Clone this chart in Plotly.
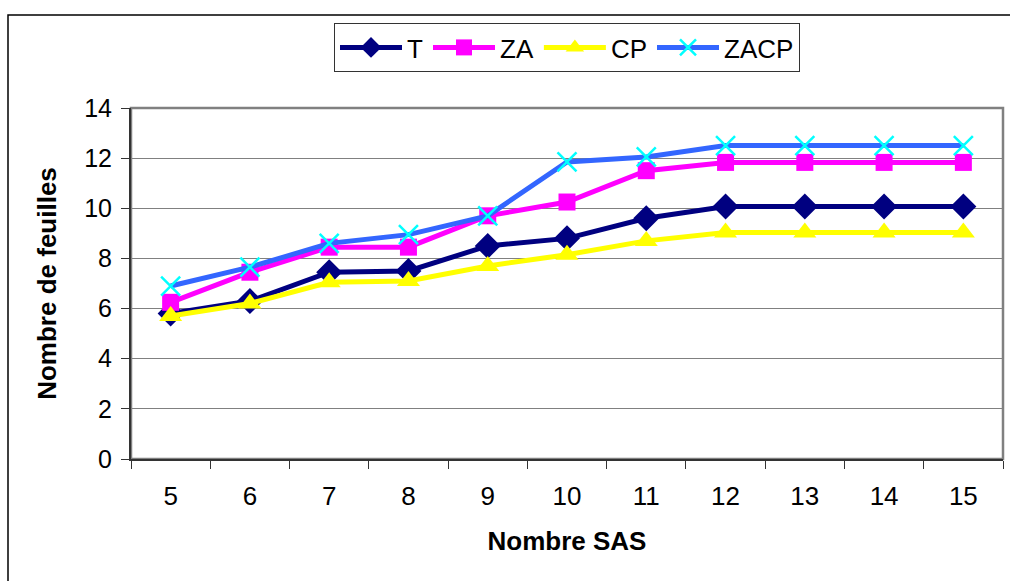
import plotly.graph_objects as go

# Number of SAS (x categories)
sas = ["5", "6", "7", "8", "9", "10", "11", "12", "13", "14", "15"]

# Number of leaves per treatment
t_vals = [5.8, 6.3, 7.45, 7.5, 8.5, 8.8, 9.6, 10.07, 10.07, 10.07, 10.07]
za_vals = [6.25, 7.45, 8.45, 8.45, 9.7, 10.25, 11.5, 11.83, 11.83, 11.83, 11.83]
cp_vals = [5.7, 6.2, 7.05, 7.1, 7.7, 8.15, 8.7, 9.03, 9.03, 9.03, 9.03]
zacp_vals = [6.9, 7.65, 8.6, 8.95, 9.7, 11.85, 12.05, 12.5, 12.5, 12.5, 12.5]

y_ticks = [0, 2, 4, 6, 8, 10, 12, 14]

FONT = "Liberation Sans, Arial, sans-serif"

fig = go.Figure()

fig.add_trace(go.Scatter(
    x=sas, y=t_vals, name="T", mode="lines+markers",
    line=dict(color="#000080", width=5),
    marker=dict(symbol="diamond", size=20, color="#000080"),
))
fig.add_trace(go.Scatter(
    x=sas, y=za_vals, name="ZA", mode="lines+markers",
    line=dict(color="#FF00FF", width=5),
    marker=dict(symbol="square", size=17, color="#FF00FF"),
))
fig.add_trace(go.Scatter(
    x=sas, y=cp_vals, name="CP", mode="lines+markers",
    line=dict(color="#FFFF00", width=5),
    marker=dict(symbol="triangle-up", size=20, color="#FFFF00"),
))
fig.add_trace(go.Scatter(
    x=sas, y=zacp_vals, name="ZACP", mode="lines+markers",
    line=dict(color="#3366FF", width=5),
    marker=dict(symbol="x-thin-open", size=19, color="#00FFFF",
                line=dict(color="#00FFFF", width=2.5)),
))

# plot-area frame (gray) and outer chart border (black)
fig.add_shape(type="rect", xref="paper", yref="paper", x0=0, x1=1, y0=0, y1=1,
              line=dict(color="#808080", width=2.5), layer="below")
fig.add_shape(type="rect", xref="paper", yref="paper",
              x0=(8 - 131) / 872, x1=(1030 - 131) / 872,
              y0=(459 - 600) / 351, y1=(459 - 15) / 351,
              line=dict(color="#000000", width=1.5), layer="below")

fig.update_layout(
    width=1010, height=581,
    margin=dict(l=131, r=7, t=108, b=122),
    paper_bgcolor="white", plot_bgcolor="white",
    font=dict(family=FONT, size=25, color="black"),
    showlegend=True,
    legend=dict(
        orientation="h", x=0.5, xanchor="center", y=(459 - 23) / 351, yanchor="top",
        bgcolor="white", bordercolor="#333333", borderwidth=1,
        font=dict(family=FONT, size=26, color="black"),
        itemwidth=62, tracegroupgap=0,
    ),
    xaxis=dict(
        type="category", tickson="boundaries", range=[-0.5, 10.5],
        ticks="outside", ticklen=8, tickcolor="#333333", tickwidth=1,
        showline=True, linecolor="#333333", linewidth=2,
        showgrid=False, zeroline=False,
        tickfont=dict(size=26), ticklabelstandoff=13,
        title=dict(text="<b>Nombre SAS</b>", font=dict(size=26), standoff=22),
    ),
    yaxis=dict(
        range=[0, 14], tickvals=y_ticks, ticktext=[str(v) for v in y_ticks],
        ticks="outside", ticklen=8, tickcolor="#333333", tickwidth=1,
        showline=True, linecolor="#333333", linewidth=2,
        showgrid=True, gridcolor="#808080", gridwidth=1.2,
        zeroline=False,
        tickfont=dict(size=25), ticklabelstandoff=4,
        title=dict(text="<b>Nombre de feuilles</b>", font=dict(size=26), standoff=20),
    ),
)

fig.write_html("out.html")
